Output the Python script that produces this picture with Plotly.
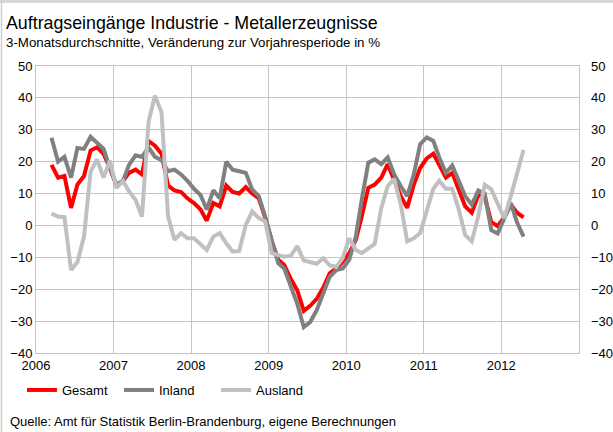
import pandas as pd
import plotly.graph_objects as go

# Monthly 3-month averages, March 2006 .. April 2012 (change vs. previous year, %)
start_month = "2006-03-01"
gesamt = [19, 15, 15.5, 5.5, 12.8, 15.5, 23.5, 24.5, 22.5, 18,
          12.5, 14, 16.5, 17.5, 16, 26.5, 25, 22.5, 12.5, 11,
          10.5, 8.5, 7, 5, 1.5, 7, 6, 12.5, 10.5, 10,
          12, 10, 8.5, 2.5, -5, -10.8, -12.4, -16.8, -20.3, -26.8,
          -25.2, -23, -19.5, -15, -13.5, -11.4, -8.7, -4.5, 2.8, 11.8,
          12.8, 15, 19.2, 14.4, 9.2, 5.5, 12.8, 18, 21, 22.5,
          19, 15, 16.5, 11.3, 6, 4, 9.5, 9, 1, -0.2,
          2.5, 6.5, 4, 2.5]
inland = [27.5, 20, 21.5, 15, 24.3, 24, 27.8, 26, 24, 18,
          12.8, 14, 19, 22, 21.5, 24.5, 21.5, 20.5, 17, 17.5,
          16, 14, 11.5, 9.5, 5, 11, 8.5, 20, 17.5, 17,
          16.5, 11.3, 9.2, 2.8, -4.5, -11.9, -13.5, -18.7, -24.5, -31.9,
          -30.3, -26.6, -21.4, -16.1, -14, -13.5, -10.8, -3.5, 8.1, 19.7,
          20.7, 19.2, 21.3, 16, 12.3, 9.2, 16, 25.5, 27.6, 26.5,
          21.3, 16.5, 18.8, 13.9, 9.2, 6.5, 11, 10, -1.5, -2.5,
          2.5, 7, 1, -3.5]
ausland = [3.7, 2.8, 2.6, -14, -11.5, -3.5, 16.8, 20.7, 15, 20.3,
           11.8, 13.9, 10.7, 8, 2.8, 32.5, 40.7, 35.5, 2.8, -4.5,
           -2.4, -4, -4, -6, -7.7, -3.5, -2.4, -5.6, -8.2, -8,
           0.2, 4.4, 2.3, 1.3, -8.7, -9.3, -9.8, -9.5, -6.5, -11,
           -11.4, -12, -10.3, -12.5, -13, -10.3, -4, -7.7, -8.7, -7.1,
           -5.8, 5.5, 12.3, 14.6, 6.5, -5, -4, -2.4, 5, 11.5,
           14, 11.5, 11.5, 5, -3, -5, 3, 12.8, 11.3, 6.5,
           2.3, 9.2, 16.5, 23.7]
years = ["2006", "2007", "2008", "2009", "2010", "2011", "2012"]
y_ticks = [50, 40, 30, 20, 10, 0, -10, -20, -30, -40]

months = pd.date_range(start_month, periods=len(gesamt), freq="MS") + pd.Timedelta(days=14)

W, H = 613, 432
ML, MR, MT, MB = 36, 34, 66, 79
PW, PH = W - ML - MR, H - MT - MB


def px(x):
    return (x - ML) / PW


def py(y):
    return (H - MB - y) / PH


FONT = "Liberation Sans, Arial, sans-serif"
fig = go.Figure()
for name, vals, col in [("Gesamt", gesamt, "#ff0000"),
                        ("Inland", inland, "#808080"),
                        ("Ausland", ausland, "#c0c0c0")]:
    fig.add_trace(go.Scatter(x=months, y=vals, name=name, mode="lines",
                             line=dict(color=col, width=4)))
# invisible copy on the right-hand axis so that it is drawn
fig.add_trace(go.Scatter(x=months, y=gesamt, yaxis="y2", mode="lines",
                         line=dict(color="rgba(0,0,0,0)", width=0),
                         showlegend=False, hoverinfo="skip"))

tickvals = [f"{y}-01-01" for y in years]
fig.update_layout(
    width=W, height=H,
    margin=dict(l=ML, r=MR, t=MT, b=MB, autoexpand=False),
    paper_bgcolor="white", plot_bgcolor="white",
    font=dict(family=FONT, size=13, color="#000000"),
    showlegend=True,
    legend=dict(orientation="h", x=px(22), xanchor="left", y=py(390), yanchor="middle",
                font=dict(size=13), itemwidth=30, tracegroupgap=0,
                entrywidth=52, entrywidthmode="pixels",
                bgcolor="rgba(0,0,0,0)"),
    xaxis=dict(type="date", range=["2006-01-01", "2013-01-01"],
               tickmode="array", tickvals=tickvals, ticktext=years,
               showgrid=True, gridcolor="#c4c4c4", gridwidth=1,
               showline=True, linecolor="#c4c4c4", linewidth=1, mirror=True,
               ticks="", zeroline=False, tickfont=dict(size=13), automargin=False),
    yaxis=dict(range=[-40, 50], tickmode="array", tickvals=y_ticks,
               showgrid=True, gridcolor="#c4c4c4", gridwidth=1,
               showline=True, linecolor="#c4c4c4", linewidth=1, mirror=True,
               zeroline=False, ticks="", tickfont=dict(size=13), automargin=False),
    yaxis2=dict(range=[-40, 50], tickmode="array", tickvals=y_ticks,
                overlaying="y", side="right", showgrid=False, zeroline=False,
                showline=False, ticks="", ticklabelstandoff=11,
                tickfont=dict(size=13), automargin=False),
)

fig.add_annotation(text="Auftragseingänge Industrie - Metallerzeugnisse",
                   xref="paper", yref="paper", x=px(4), y=py(23),
                   xanchor="left", yanchor="middle", showarrow=False,
                   font=dict(size=17.8, family=FONT))
fig.add_annotation(text="3-Monatsdurchschnitte, Veränderung zur Vorjahresperiode in %",
                   xref="paper", yref="paper", x=px(4), y=py(42),
                   xanchor="left", yanchor="middle", showarrow=False,
                   font=dict(size=13.3, family=FONT))
fig.add_annotation(text="Quelle: Amt für Statistik Berlin-Brandenburg, eigene Berechnungen",
                   xref="paper", yref="paper", x=px(8), y=py(421),
                   xanchor="left", yanchor="middle", showarrow=False,
                   font=dict(size=13, family=FONT))

# light frame at top and left of the picture
fig.add_shape(type="rect", xref="paper", yref="paper",
              x0=px(0), x1=px(W), y0=py(0), y1=py(3),
              fillcolor="#d6d6d6", line=dict(width=0), layer="above")
fig.add_shape(type="line", xref="paper", yref="paper",
              x0=px(1.5), x1=px(1.5), y0=py(0), y1=py(H),
              line=dict(color="#cfcfcf", width=1.5), layer="above")

fig.write_html("out.html", config={"displayModeBar": False},
               post_script="document.body.style.margin='0';document.body.style.overflow='hidden';")
